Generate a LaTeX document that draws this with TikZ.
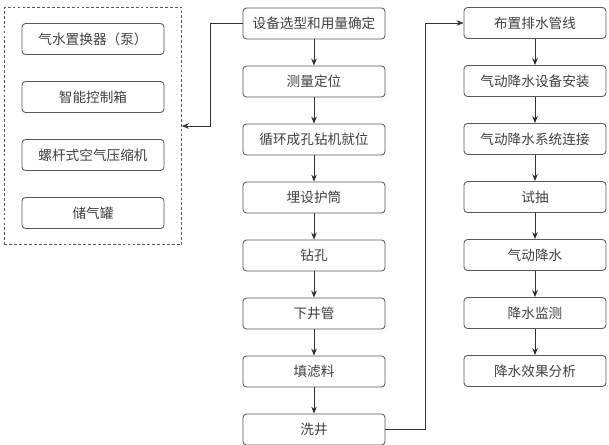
\documentclass[tikz,border=0pt]{standalone}
\usepackage{fontspec}
\setmainfont{Noto Sans CJK SC}
\usetikzlibrary{positioning,fit,arrows.meta}

\begin{document}
\begin{tikzpicture}[node distance=1.45cm,on grid,auto,line width=0.6pt,
    >={Stealth[length=5pt,width=4pt]},
    box/.style={draw=black!65,rounded corners=2.5pt,minimum width=3.55cm,
      minimum height=0.775cm,text=black!75,font=\fontsize{9.7}{12}\selectfont}]
    \useasboundingbox (0,0) rectangle (15.225,-11.125);
    % construction steps
    \node[box] (s1) at (7.85,-0.5875) {设备选型和用量确定};
    \node[box] (s2) [below = of s1]{测量定位};
    \node[box] (s3) [below = of s2]{循环成孔钻机就位};
    \node[box] (s4) [below = of s3]{埋设护筒};
    \node[box] (s5) [below = of s4]{钻孔};
    \node[box] (s6) [below = of s5]{下井管};
    \node[box] (s7) [below = of s6]{填滤料};
    \node[box] (s8) [below = of s7]{洗井};
    % dewatering steps
    \node[box] (r1) at (13.375,-0.575) {布置排水管线};
    \node[box] (r2) [below = of r1]{气动降水设备安装};
    \node[box] (r3) [below = of r2]{气动降水系统连接};
    \node[box] (r4) [below = of r3]{试抽};
    \node[box] (r5) [below = of r4]{气动降水};
    \node[box] (r6) [below = of r5]{降水监测};
    \node[box] (r7) [below = of r6]{降水效果分析};
    % equipment
    \node[box] (e1) at (2.325,-0.975) {气水置换器（泵）};
    \node[box] (e2) [below = of e1]{智能控制箱};
    \node[box] (e3) [below = of e2]{螺杆式空气压缩机};
    \node[box] (e4) [below = of e3]{储气罐};
    \node[draw=black!65,dash pattern=on 2pt off 1.5pt,fit=(e1)(e4),
      inner xsep=0.425cm,inner ysep=0.4cm] (dev) {};
    \path[->,draw=black!80]
    (s1) edge (s2)
    (s2) edge (s3)
    (s3) edge (s4)
    (s4) edge (s5)
    (s5) edge (s6)
    (s6) edge (s7)
    (s7) edge (s8)
    (r1) edge (r2)
    (r2) edge (r3)
    (r3) edge (r4)
    (r4) edge (r5)
    (r5) edge (r6)
    (r6) edge (r7)
    ;
    \draw[->,black!80] (s1.west) -- ++(-0.8,0) |- (dev.east);
    \draw[->,black!80] (s8.east) -- ++(0.99,0) |- (r1.west);
\end{tikzpicture}
\end{document}
